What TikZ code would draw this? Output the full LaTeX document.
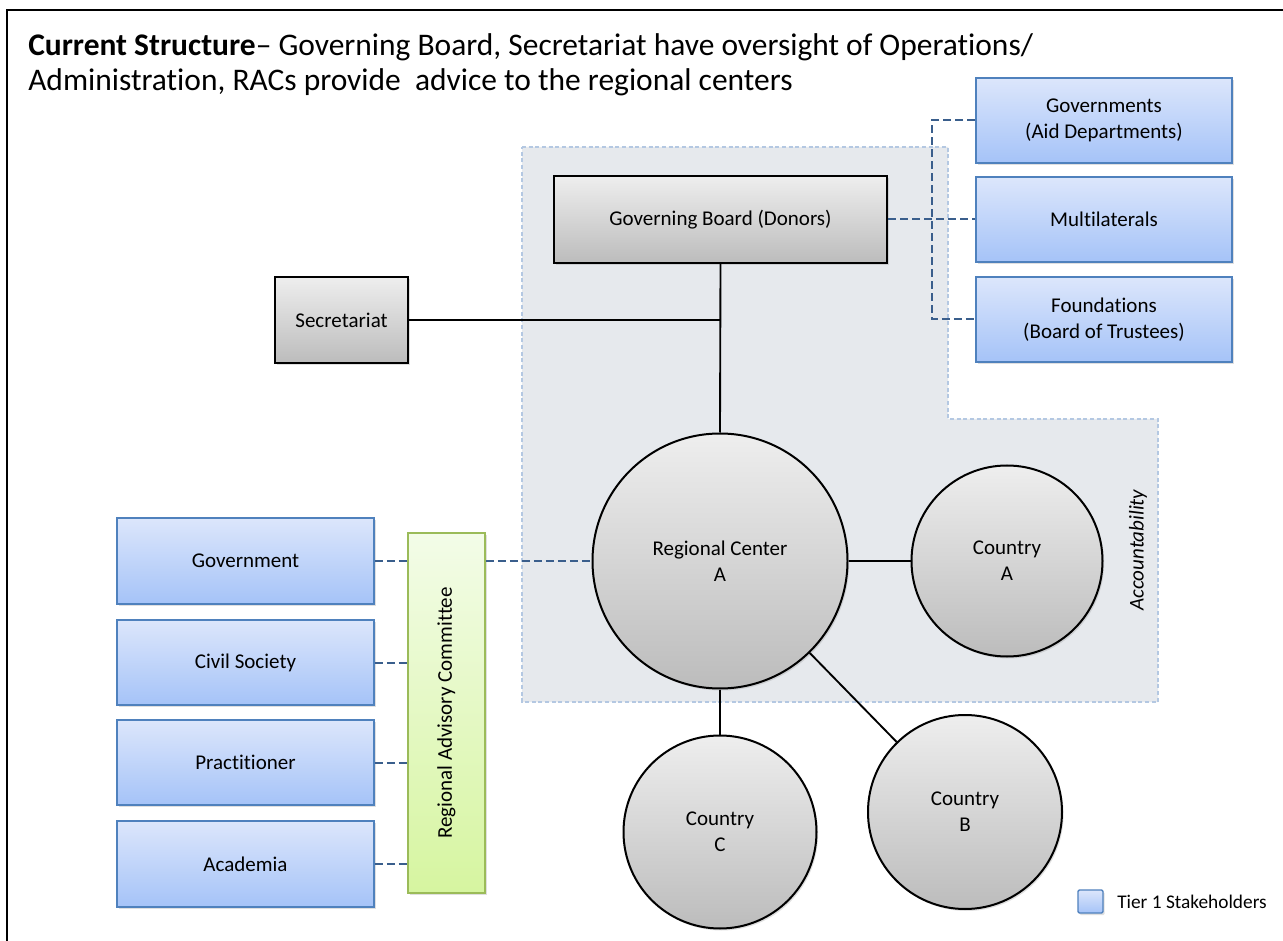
\documentclass[tikz,border=0pt]{standalone}
\usepackage{fontspec}
\setmainfont{Carlito}[Ligatures=NoCommon]
\usetikzlibrary{shadows,calc}
\newdimen\pxu \pxu=0.75pt
\definecolor{blueTop}{HTML}{DCE6FB}
\definecolor{blueBot}{HTML}{A5C3F8}
\definecolor{blueLine}{HTML}{4F81BD}
\definecolor{grayTop}{HTML}{EEEEEE}
\definecolor{grayBot}{HTML}{BCBCBC}
\definecolor{greenTop}{HTML}{F3FCE8}
\definecolor{greenBot}{HTML}{D6F5A0}
\definecolor{greenLine}{HTML}{9BBB59}
\definecolor{regionFill}{HTML}{E6E9ED}
\definecolor{regionLine}{HTML}{B4C8E2}
\definecolor{dashBlue}{HTML}{3A5E8C}
\tikzset{
  boxfont/.style={font=\fontsize{15.75}{19.5}\selectfont},
  stake/.style={draw=blueLine, line width=1.4pt, top color=blueTop, bottom color=blueBot,
    rectangle, align=center, boxfont, inner sep=0pt,
    drop shadow={shadow xshift=1.2pt, shadow yshift=-1.5pt, opacity=0.25}},
  graybox/.style={draw=black, line width=1.5pt, top color=grayTop, bottom color=grayBot,
    rectangle, align=center, boxfont, inner sep=0pt,
    drop shadow={shadow xshift=1.2pt, shadow yshift=-1.5pt, opacity=0.25}},
  graycirc/.style={draw=black, line width=1.5pt, top color=grayTop, bottom color=grayBot,
    circle, align=center, boxfont, inner sep=0pt,
    drop shadow={shadow xshift=1.2pt, shadow yshift=-1.5pt, opacity=0.25}},
  racbox/.style={draw=greenLine, line width=1.4pt, top color=greenTop, bottom color=greenBot,
    rectangle, inner sep=0pt,
    drop shadow={shadow xshift=1.2pt, shadow yshift=-1.5pt, opacity=0.25}},
  solidlink/.style={draw=black, line width=1.4pt},
  dashlink/.style={draw=dashBlue, line width=1.5pt, dash pattern=on 6pt off 3pt},
}
\begin{document}
\begin{tikzpicture}[x=0.75pt,y=-0.75pt]
\useasboundingbox (0,0) rectangle (1283,941);
\fill[white] (0,0) rectangle (1283,941);
% frame
\draw[line width=1.6pt] (7,960) -- (7,10) -- (1300,10);
% title
\node[anchor=base west, inner sep=0pt, font=\fontsize{23.6}{28}\selectfont] (t1) at (28,56)
  {\textbf{Current Structure}– Governing Board, Secretariat have oversight of Operations/};
\node[anchor=base west, inner sep=0pt, font=\fontsize{23.6}{28}\selectfont] (t2) at (28,91)
  {Administration, RACs provide\ \ advice to the regional centers};
% accountability region
\path[fill=regionFill, draw=regionLine, line width=0.8pt, dash pattern=on 3pt off 2pt]
  (522,147) -- (948,147) -- (948,419) -- (1158,419) -- (1158,702) -- (522,702) -- cycle;
\node[rotate=90, inner sep=0pt, font=\fontsize{15.75}{19}\selectfont\itshape] (acc) at (1138,550) {Accountability};
% nodes
\node[graybox, minimum width=333\pxu, minimum height=87\pxu] (gb) at (720.5,219.5) {Governing Board (Donors)};
\node[graybox, minimum width=133\pxu, minimum height=86\pxu] (sec) at (341.5,320) {Secretariat};
\node[stake, minimum width=256\pxu, minimum height=85\pxu] (gov1) at (1104,120.5) {Governments\\(Aid Departments)};
\node[stake, minimum width=256\pxu, minimum height=85\pxu] (multi) at (1104,219.5) {Multilaterals};
\node[stake, minimum width=256\pxu, minimum height=85\pxu] (found) at (1104,319.5) {Foundations\\(Board of Trustees)};
\node[stake, minimum width=257\pxu, minimum height=86\pxu] (govt) at (245.5,561) {Government};
\node[stake, minimum width=257\pxu, minimum height=85\pxu] (civil) at (245.5,662.5) {Civil Society};
\node[stake, minimum width=257\pxu, minimum height=85\pxu] (pract) at (245.5,762.5) {Practitioner};
\node[stake, minimum width=257\pxu, minimum height=86\pxu] (acad) at (245.5,864) {Academia};
\node[racbox, minimum width=77\pxu, minimum height=360\pxu] (rac) at (446.5,713) {};
\node[rotate=90, inner sep=0pt, boxfont] (ractext) at (rac.center) {Regional Advisory Committee};
\node[graycirc, minimum size=255\pxu] (rc) at (720,561) {Regional Center\\A};
\node[graycirc, minimum size=191\pxu] (ca) at (1007,561) {Country\\A};
\node[graycirc, minimum size=194\pxu] (cb) at (965,812) {Country\\B};
\node[graycirc, minimum size=193\pxu] (cc) at (720,832) {Country\\C};
% legend
\node[stake, minimum width=25\pxu, minimum height=23\pxu, line width=1pt, rounded corners=1pt] (leg) at (1090.5,901.5) {};
\node[anchor=west, inner sep=0pt, font=\fontsize{14.5}{17}\selectfont] (legt) at (1117,902) {Tier 1 Stakeholders};
% solid connectors
\coordinate (jn) at (gb.south |- sec.east);
\draw[solidlink] (gb.south) -- (rc.north);
\draw[solidlink] (sec.east) -- (jn);
\draw[solidlink] (rc.east) -- (ca.west);
\draw[solidlink] (rc) -- (cb);
\draw[solidlink] (rc.south) -- (cc.north);
% dashed connectors
\coordinate (dv) at (932,0);
\draw[dashlink] (gb.east) -- (multi.west);
\draw[dashlink] (gov1.west) -- (gov1.west -| dv) -- (found.west -| dv) -- (found.west);
\draw[dashlink] (rac.east |- rc.west) -- (rc.west);
\draw[dashlink] (govt.east) -- (govt.east -| rac.west);
\draw[dashlink] (civil.east) -- (civil.east -| rac.west);
\draw[dashlink] (pract.east) -- (pract.east -| rac.west);
\draw[dashlink] (acad.east) -- (acad.east -| rac.west);
\end{tikzpicture}
\end{document}
